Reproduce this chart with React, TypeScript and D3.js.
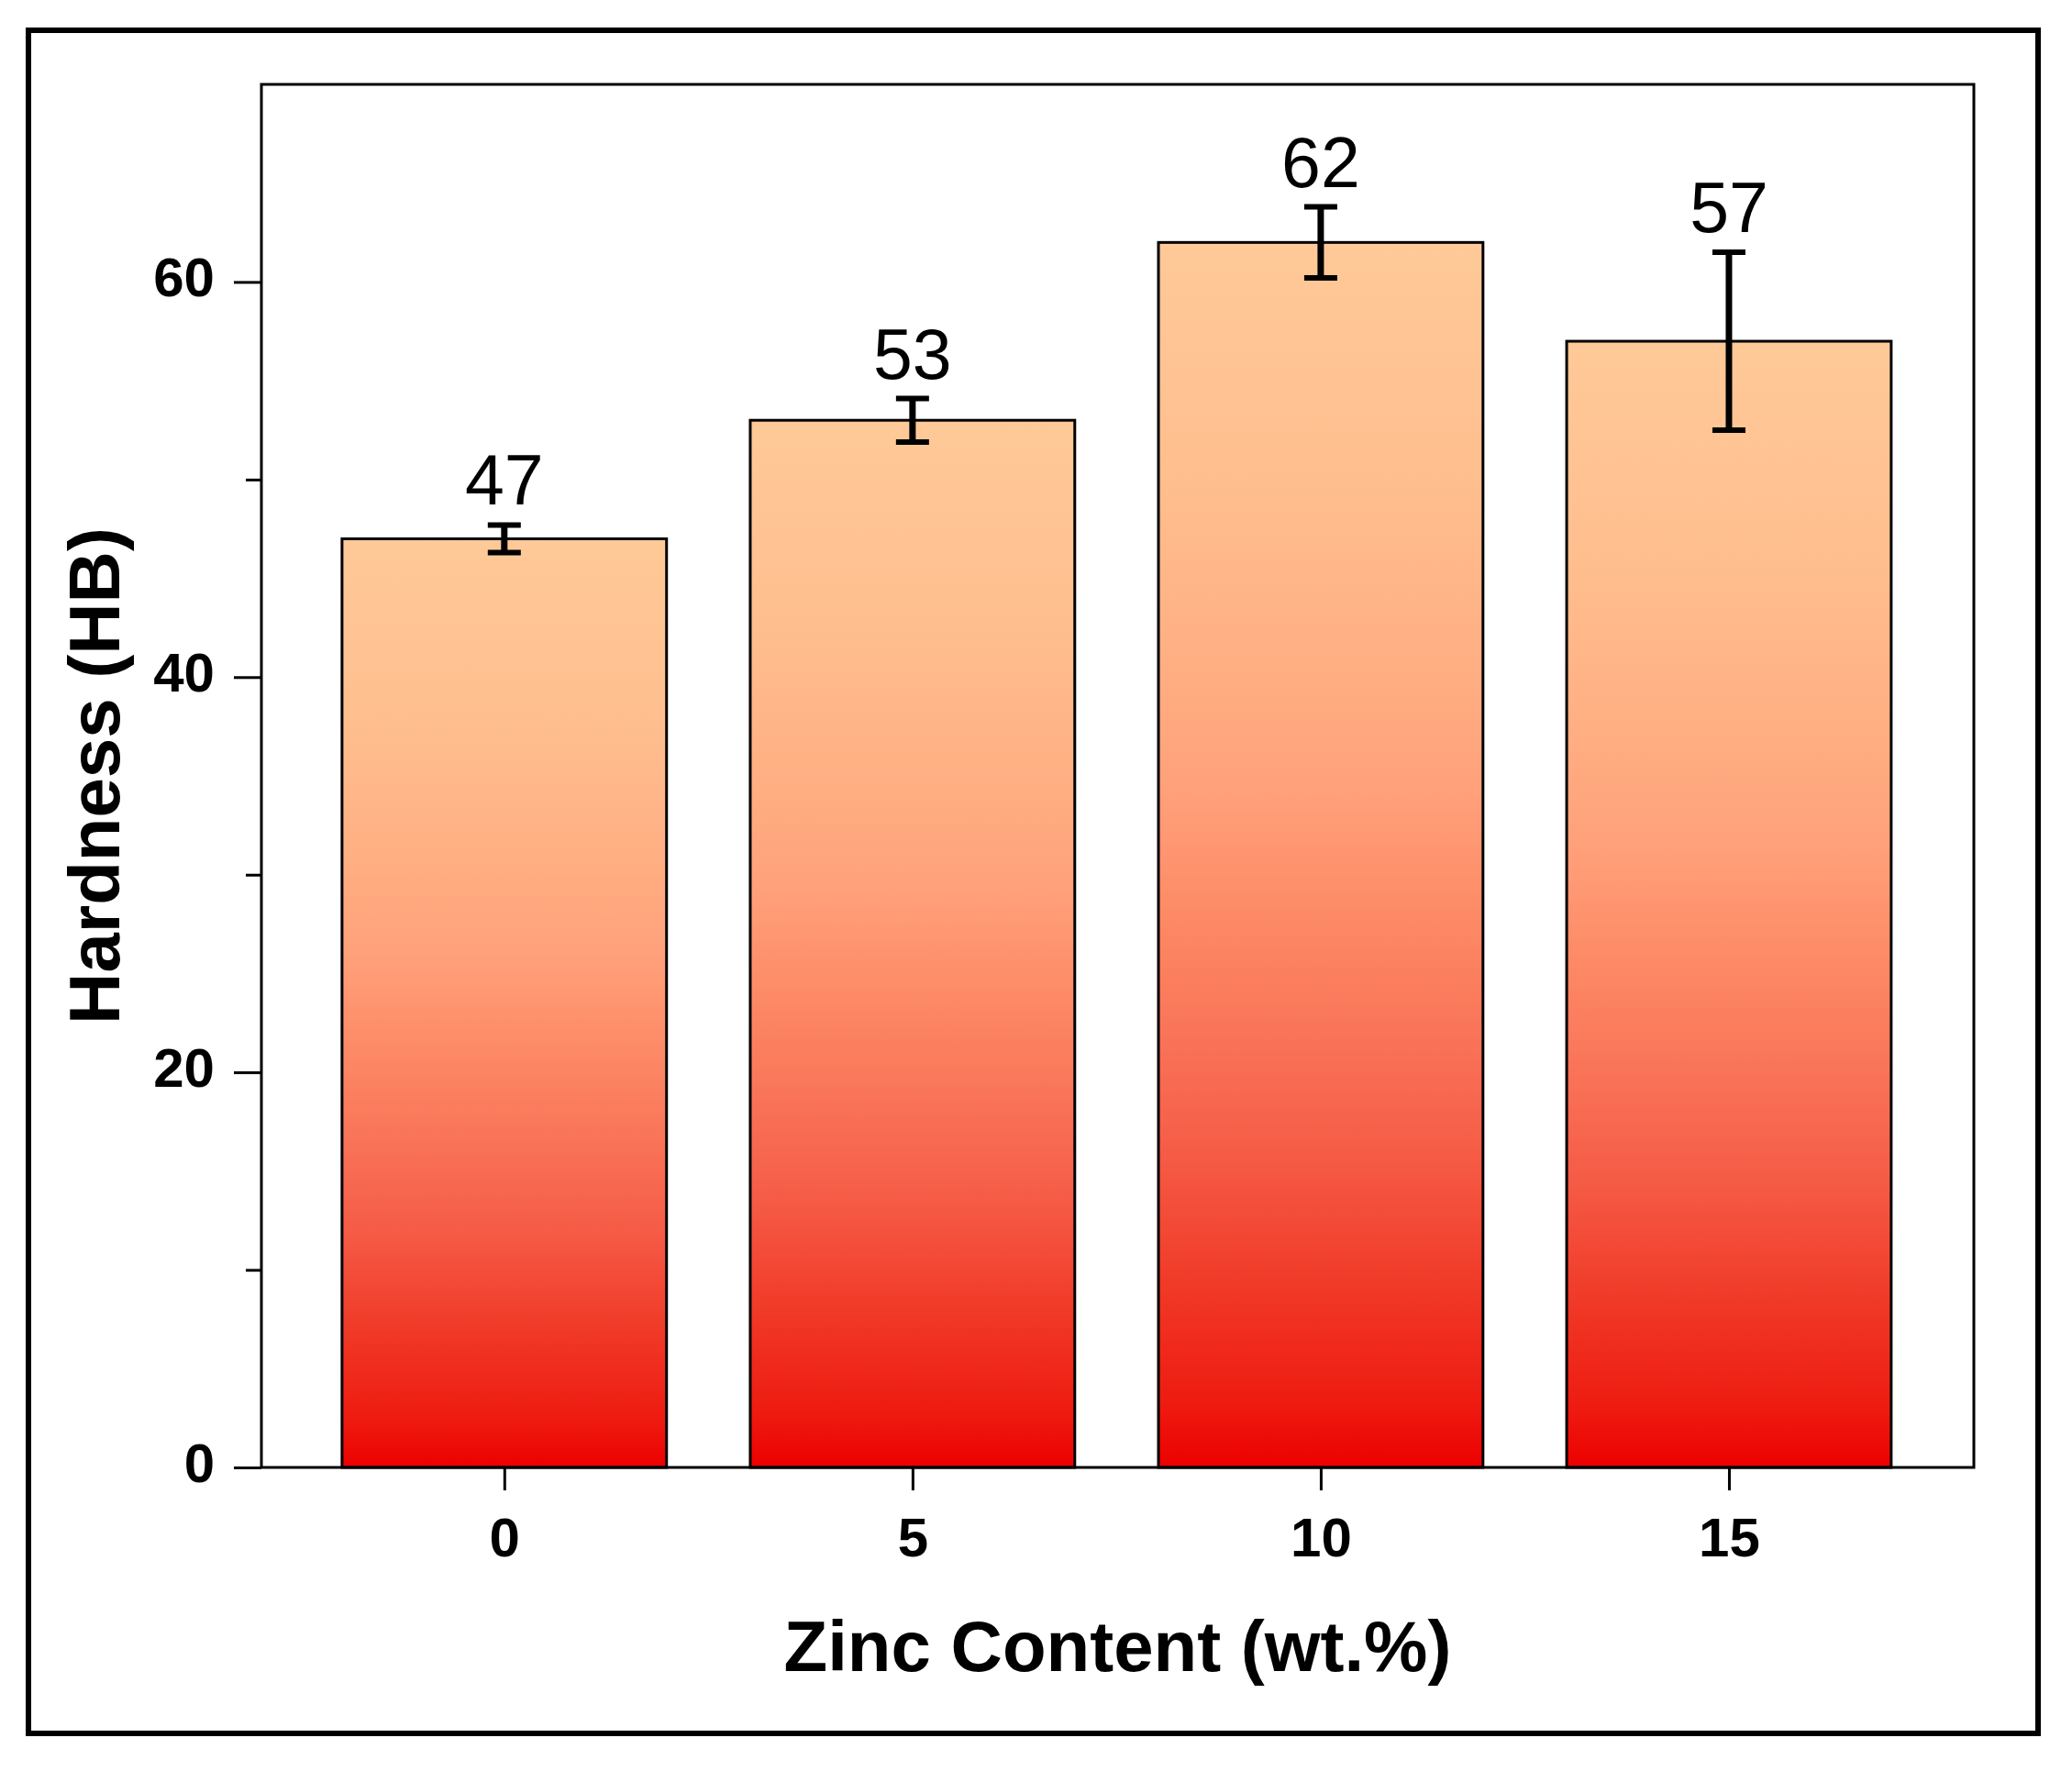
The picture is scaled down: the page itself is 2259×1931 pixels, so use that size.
import * as d3 from "d3";
import { useEffect, useRef } from "react";

// data
const zincContent = ["0", "5", "10", "15"];
const hardness = [47, 53, 62, 57];
const hardnessErr = [0.7, 1.1, 1.8, 4.5];
const yMajorTicks = [0, 20, 40, 60];
const yMinorTicks = [10, 30, 50];

// gradient stops, light top to red bottom
const gradientStops = [
  { offset: 0, color: "#FFC998" },
  { offset: 0.2, color: "#FFBE8E" },
  { offset: 0.35, color: "#FFAE82" },
  { offset: 0.45, color: "#FFA07A" },
  { offset: 0.55, color: "#FD8A66" },
  { offset: 0.65, color: "#F97358" },
  { offset: 0.75, color: "#F55A45" },
  { offset: 0.85, color: "#F03A28" },
  { offset: 0.95, color: "#EE1A10" },
  { offset: 1, color: "#EC0000" },
];

export default function App() {
  const svgRef = useRef<SVGSVGElement | null>(null);

  useEffect(() => {
    if (!svgRef.current) return;
    d3.select(svgRef.current).selectAll("*").remove();

    const width = 2259;
    const height = 1931;
    const plot = { left: 285, right: 2152, top: 92, bottom: 1600 };
    const font = "'Liberation Sans', Arial, sans-serif";

    const svg = d3.select(svgRef.current).attr("width", width).attr("height", height);

    svg.append("rect").attr("width", width).attr("height", height).attr("fill", "#fff");

    // outer figure border
    svg.append("rect")
      .attr("x", 31).attr("y", 33)
      .attr("width", 2222 - 31).attr("height", 1890 - 33)
      .attr("fill", "none").attr("stroke", "#000").attr("stroke-width", 6);

    const x = d3.scaleLinear().domain([-0.595, 3.6]).range([plot.left, plot.right]);
    const y = d3.scaleLinear().domain([0, 70]).range([plot.bottom, plot.top]);

    const defs = svg.append("defs");
    const grad = defs.append("linearGradient")
      .attr("id", "barGrad")
      .attr("x1", 0).attr("y1", 0).attr("x2", 0).attr("y2", 1);
    grad.selectAll("stop")
      .data(gradientStops)
      .enter()
      .append("stop")
      .attr("offset", (d) => d.offset)
      .attr("stop-color", (d) => d.color);

    const barW = x(0.3975) - x(-0.3975);
    const idx = d3.range(hardness.length);

    // bars
    svg.append("g")
      .selectAll("rect")
      .data(idx)
      .enter()
      .append("rect")
      .attr("x", (i) => x(i) - barW / 2)
      .attr("y", (i) => y(hardness[i]))
      .attr("width", barW)
      .attr("height", (i) => y(0) - y(hardness[i]))
      .attr("fill", "url(#barGrad)")
      .attr("stroke", "#000")
      .attr("stroke-width", 3);

    // error bars
    const err = svg.append("g").attr("stroke", "#000");
    idx.forEach((i) => {
      const cx = x(i);
      const hi = y(hardness[i] + hardnessErr[i]);
      const lo = y(hardness[i] - hardnessErr[i]);
      err.append("line").attr("x1", cx).attr("x2", cx).attr("y1", hi).attr("y2", lo).attr("stroke-width", 7);
      [hi, lo].forEach((yy) => {
        err.append("line")
          .attr("x1", cx - 18).attr("x2", cx + 18)
          .attr("y1", yy).attr("y2", yy)
          .attr("stroke-width", 6);
      });
    });

    // value labels
    svg.append("g")
      .selectAll("text")
      .data(idx)
      .enter()
      .append("text")
      .attr("x", (i) => x(i))
      .attr("y", (i) => y(hardness[i] + hardnessErr[i]) - 22)
      .attr("text-anchor", "middle")
      .style("font-family", font)
      .style("font-size", "77px")
      .text((i) => String(hardness[i]));

    // plot frame
    svg.append("rect")
      .attr("x", plot.left).attr("y", plot.top)
      .attr("width", plot.right - plot.left).attr("height", plot.bottom - plot.top)
      .attr("fill", "none").attr("stroke", "#000").attr("stroke-width", 3);

    // y axis
    const yAxis = svg.append("g")
      .attr("transform", `translate(${plot.left},0)`)
      .call(d3.axisLeft(y).tickValues(yMajorTicks).tickSize(30).tickPadding(21));
    yAxis.append("g").call(d3.axisLeft(y).tickValues(yMinorTicks).tickSize(17).tickFormat(() => ""));
    yAxis.selectAll(".domain").remove();
    yAxis.selectAll("line").attr("stroke", "#000").attr("stroke-width", 3);
    yAxis.selectAll("text")
      .attr("dy", "0.25em")
      .attr("fill", "#000")
      .style("font-family", font)
      .style("font-size", "60px")
      .style("font-weight", "bold");

    // x axis
    const xAxis = svg.append("g")
      .attr("transform", `translate(0,${plot.bottom})`)
      .call(
        d3.axisBottom(x)
          .tickValues(idx)
          .tickFormat((d) => zincContent[d as number])
          .tickSize(25)
          .tickPadding(29)
      );
    xAxis.selectAll(".domain").remove();
    xAxis.selectAll("line").attr("stroke", "#000").attr("stroke-width", 3);
    xAxis.selectAll("text")
      .attr("fill", "#000")
      .style("font-family", font)
      .style("font-size", "60px")
      .style("font-weight", "bold");

    // axis titles
    svg.append("text")
      .attr("x", (plot.left + plot.right) / 2)
      .attr("y", 1822)
      .attr("text-anchor", "middle")
      .style("font-family", font)
      .style("font-size", "78px")
      .style("font-weight", "bold")
      .text("Zinc Content (wt.%)");

    svg.append("text")
      .attr("transform", `translate(130,${(plot.top + plot.bottom) / 2}) rotate(-90)`)
      .attr("text-anchor", "middle")
      .style("font-family", font)
      .style("font-size", "78px")
      .style("font-weight", "bold")
      .text("Hardness (HB)");
  }, []);

  return (
    <div style={{ position: "absolute", left: 0, top: 0 }}>
      <svg ref={svgRef} style={{ display: "block" }}></svg>
    </div>
  );
}
